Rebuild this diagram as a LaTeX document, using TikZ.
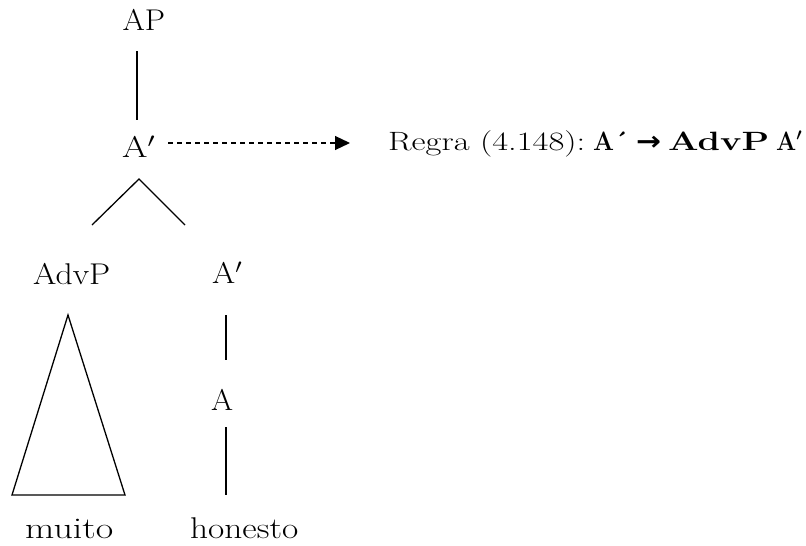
\documentclass[tikz,border=0pt]{standalone}
\usepackage{fontspec}
\usepackage{graphicx}
\setmainfont{Latin Modern Roman}
\newfontfamily\symfont{DejaVu Sans}
\usetikzlibrary{arrows.meta}
\newcommand{\fitw}[2]{\resizebox{#1}{\height}{#2}}
\tikzset{
  lbl/.style={anchor=base west, inner sep=0pt, font=\fontsize{30}{34}\selectfont},
  rule/.style={anchor=base west, inner sep=0pt, font=\fontsize{26.5}{30}\selectfont},
  edge/.style={line width=1.3pt},
  derive/.style={line width=1.2pt, dash pattern=on 5pt off 4pt, -{Triangle[length=15pt,width=14pt]}}
}
\begin{document}
\begin{tikzpicture}[x=1pt,y=-1pt]
\useasboundingbox (0,0) rectangle (806,546);
\node[lbl] (AP) at (122.5,30.7) {\fitw{42.5pt}{AP}};
\node[lbl] (Abar) at (122,157) {\fitw{33pt}{A$'$}};
\node[lbl] (AdvP) at (33,284) {\fitw{77pt}{AdvP}};
\node[lbl] (Abar2) at (212,283) {\fitw{30pt}{A$'$}};
\node[lbl] (A) at (211,410) {\fitw{22pt}{A}};
\node[lbl] (muito) at (25,538) {\fitw{88pt}{muito}};
\node[lbl] (honesto) at (190,538) {\fitw{108pt}{honesto}};
\node[rule] (regra) at (388,150) {\fitw{197pt}{Regra (4.148):}\hspace{8pt}\fitw{35pt}{\textbf{A\textasciiacute}}\hspace{8pt}\fitw{25pt}{\symfont\bfseries →}\hspace{7pt}\fitw{101pt}{\textbf{AdvP}}\hspace{7pt}\fitw{26pt}{\textbf{A}{\boldmath$'$}}};
% connector end points
\coordinate (apb) at (137,51);
\coordinate (abt) at (137,120);
\coordinate (apex) at (139,179);
\coordinate (lft) at (92,225);
\coordinate (rgt) at (185,225);
\coordinate (tri) at (68,315);
\coordinate (trl) at (12,495);
\coordinate (trr) at (125,495);
\coordinate (v1a) at (226,315);
\coordinate (v1b) at (226,360);
\coordinate (v2a) at (226,427);
\coordinate (v2b) at (226,495);
\coordinate (dstart) at (168,143);
\coordinate (dend) at (350,143);
\draw[edge] (apb) -- (abt);
\draw[edge] (lft) -- (apex) -- (rgt);
\draw[edge] (tri) -- (trl) -- (trr) -- cycle;
\draw[edge] (v1a) -- (v1b);
\draw[edge] (v2a) -- (v2b);
\draw[derive] (dstart) -- (dend);
\end{tikzpicture}
\end{document}
